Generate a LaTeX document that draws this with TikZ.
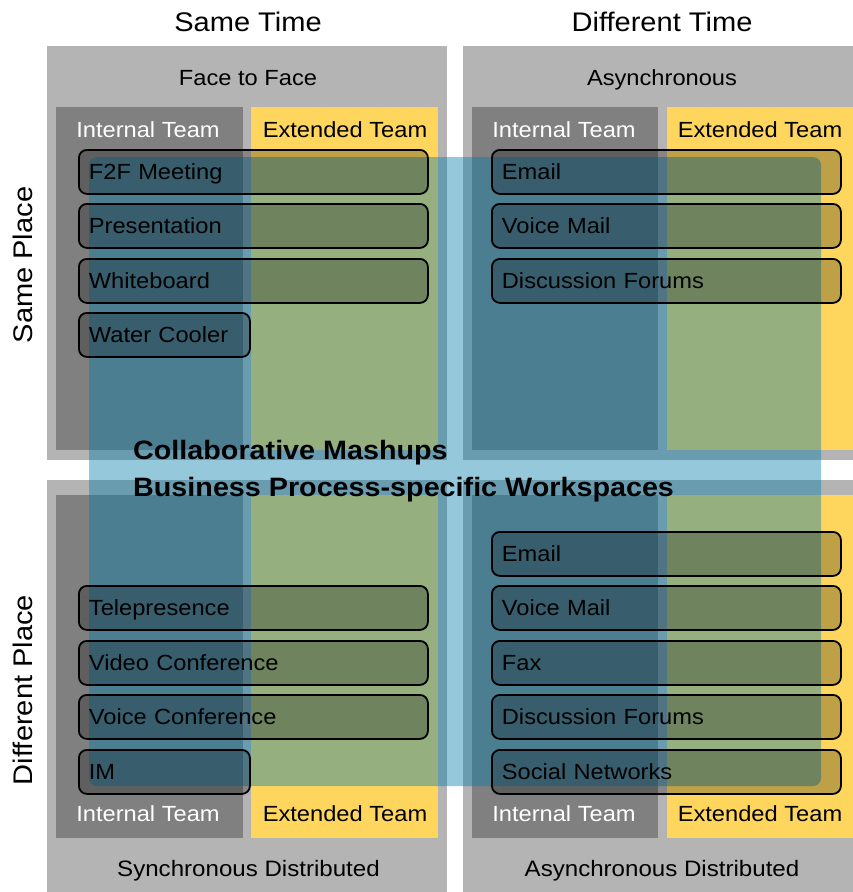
\documentclass[tikz,border=0pt]{standalone}
\usepackage{fontspec}
\setmainfont[FakeStretch=1.08]{Liberation Sans}
\definecolor{qgray}{RGB}{180,180,180}
\definecolor{igray}{RGB}{128,128,128}
\definecolor{yel}{RGB}{254,214,94}
\definecolor{ovblue}{RGB}{5,124,171}
\tikzset{
  lbl/.style={inner sep=0pt, text height=15.8bp, text depth=0pt, font=\fontsize{22}{26}\selectfont},
  title/.style={inner sep=0pt, text height=19.3bp, text depth=0pt, font=\fontsize{27}{32}\selectfont},
  boldlbl/.style={inner sep=0pt, text height=19.1bp, text depth=0pt, anchor=west, font=\fontsize{26.7}{32}\selectfont\bfseries},
  item/.style={draw=black, line width=1.8bp, rounded corners=8bp, fill=black, fill opacity=0.25,
    text opacity=1, anchor=north west, inner xsep=10bp, inner ysep=0pt, align=left,
    minimum height=44bp, text height=15.8bp, text depth=0pt, font=\fontsize{22}{26}\selectfont},
  long/.style={item, text width=329bp},
  short/.style={item, text width=151bp}
}
\begin{document}
\begin{tikzpicture}[x=1bp,y=-1bp]
\useasboundingbox (0,0) rectangle (853,892);
% quadrants
\fill[qgray] (47,46) rectangle (447,460);
\fill[qgray] (463,46) rectangle (853,460);
\fill[qgray] (47,480) rectangle (447,892);
\fill[qgray] (463,480) rectangle (853,892);
% team columns
\fill[igray] (56,107) rectangle (243,450);
\fill[yel] (251,107) rectangle (438,450);
\fill[igray] (472,107) rectangle (658,450);
\fill[yel] (667,107) rectangle (853,450);
\fill[igray] (56,495) rectangle (243,838);
\fill[yel] (251,495) rectangle (438,838);
\fill[igray] (472,495) rectangle (658,838);
\fill[yel] (667,495) rectangle (853,838);
% headings
\node[title] (st) at (248,22) {Same Time};
\node[title] (dt) at (662,22) {Different Time};
\node[title, rotate=90] (sp) at (23,265) {Same Place};
\node[title, rotate=90] (dp) at (23,690) {Different Place};
\node[lbl] (f2f) at (248,78) {Face to Face};
\node[lbl] (asy) at (662,78) {Asynchronous};
\node[lbl, font=\fontsize{22.4}{26}\selectfont] (sd) at (248.5,868.5) {Synchronous Distributed};
\node[lbl, font=\fontsize{22.4}{26}\selectfont] (ad) at (662,868.5) {Asynchronous Distributed};
% team labels
\node[lbl, text=white] (it1) at (148,129.5) {Internal Team};
\node[lbl] (et1) at (345,129.5) {Extended Team};
\node[lbl, text=white] (it2) at (564,129.5) {Internal Team};
\node[lbl] (et2) at (760,129.5) {Extended Team};
\node[lbl, text=white] (it3) at (148,813.5) {Internal Team};
\node[lbl] (et3) at (345,813.5) {Extended Team};
\node[lbl, text=white] (it4) at (564,813.5) {Internal Team};
\node[lbl] (et4) at (760,813.5) {Extended Team};
% blue overlay
\fill[ovblue, fill opacity=0.42, rounded corners=8bp] (89,157) rectangle (821,786);
% items top-left
\node[long] (a1) at (78,149) {F2F Meeting};
\node[long] (a2) at (78,203) {Presentation};
\node[long] (a3) at (78,258) {Whiteboard};
\node[short] (a4) at (78,312) {Water Cooler};
% items top-right
\node[long] (b1) at (491,149) {Email};
\node[long] (b2) at (491,203) {Voice Mail};
\node[long] (b3) at (491,258) {Discussion Forums};
% items bottom-left
\node[long] (c1) at (78,585) {Telepresence};
\node[long] (c2) at (78,640) {Video Conference};
\node[long] (c3) at (78,694) {Voice Conference};
\node[short] (c4) at (78,749) {IM};
% items bottom-right
\node[long] (d1) at (491,531) {Email};
\node[long] (d2) at (491,585) {Voice Mail};
\node[long] (d3) at (491,640) {Fax};
\node[long] (d4) at (491,694) {Discussion Forums};
\node[long] (d5) at (491,749) {Social Networks};
% centre text
\node[boldlbl] (cm) at (133,449.5) {Collaborative Mashups};
\node[boldlbl] (bp) at (133,486.5) {Business Process-specific Workspaces};
\end{tikzpicture}
\end{document}
